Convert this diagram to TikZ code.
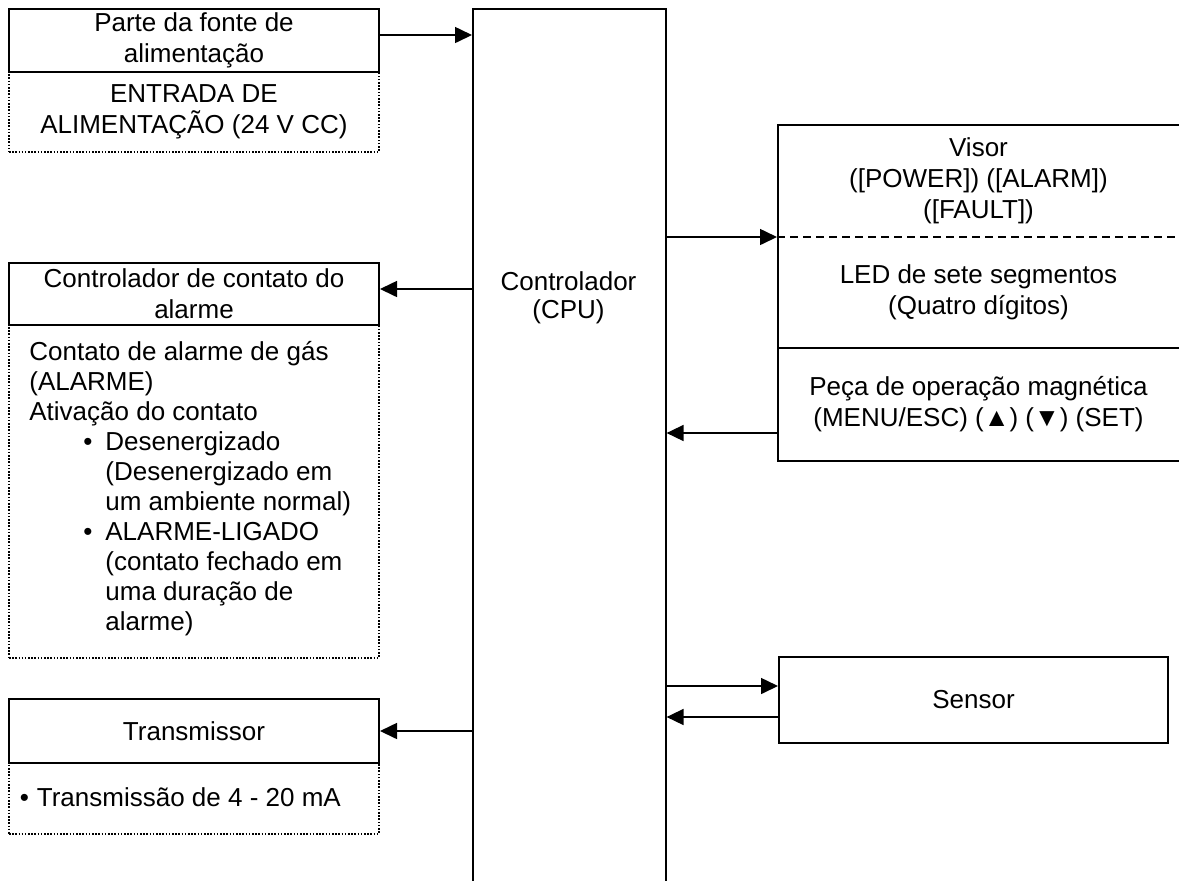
\documentclass[tikz,border=0pt]{standalone}
\usepackage{fontspec}
\setmainfont{Liberation Sans}
\usetikzlibrary{arrows.meta,calc}
\newcommand\mybul{\hspace*{27pt}\makebox[11pt][l]{•}}
\newcommand\myind{\hspace*{38pt}}
\begin{document}
\begin{tikzpicture}[x=0.5pt,y=-0.5pt, font=\fontsize{13}{15.5}\selectfont,
  box/.style={draw, line width=1pt, inner sep=0pt, anchor=north west, align=center},
  dotbox/.style={draw, line width=0.9pt, dash pattern=on 0.8pt off 0.8pt, inner sep=0pt, anchor=north west, align=center},
  arr/.style={line width=0.8pt, -{Triangle[length=8.5pt,width=8pt]}},
  txt/.style={inner sep=0pt, align=center}]
\clip (0,0) rectangle (1179,880);
% power supply
\node[dotbox, minimum width=185pt, minimum height=40pt] (pwrd) at (8,71) {ENTRADA DE\\ALIMENTAÇÃO (24 V CC)};
\node[box, minimum width=185pt, minimum height=31.5pt] (pwr) at (8,8) {Parte da fonte de\\alimentação};
% CPU
\node[box, line width=0.8pt, minimum width=96.5pt, minimum height=450pt] (cpu) at (472,8) {};
\node[txt, font=\fontsize{13}{14}\selectfont] (cput) at (568.5,298) {Controlador\\(CPU)};
% alarm contact
\node[dotbox, minimum width=185pt, minimum height=166.5pt] (alarmd) at (8,324) {};
\node[inner sep=0pt, anchor=north west, align=left, font=\fontsize{13}{15}\selectfont] (alarmt) at (29,341) {Contato de alarme de gás\\
(ALARME)\\
Ativação do contato\\
\mybul Desenergizado\\
\myind(Desenergizado em\\
\myind um ambiente normal)\\
\mybul ALARME-LIGADO\\
\myind(contato fechado em\\
\myind uma duração de\\
\myind alarme)};
\node[box, minimum width=185pt, minimum height=31pt] (alarm) at (8,262) {Controlador de contato do\\alarme};
% transmitter
\node[dotbox, minimum width=185pt, minimum height=35.5pt] (transd) at (8,762) {};
\node[inner sep=0pt, anchor=west] (transt) at (19.5,797.5) {\makebox[8.5pt][l]{•}Transmissão de 4 - 20 mA};
\node[box, minimum width=185pt, minimum height=32pt] (trans) at (8,698) {Transmissor};
% display
\node[box, minimum width=201.5pt, minimum height=168pt] (visor) at (777,124) {};
\draw[line width=0.75pt, dash pattern=on 4pt off 2.5pt] (visor.west |- 0,237) -- (visor.east |- 0,237);
\draw[line width=1pt] (visor.west |- 0,348) -- (visor.east |- 0,348);
\node[txt] (visort) at (978.5,180.5) {Visor\\([POWER]) ([ALARM])\\([FAULT])};
\node[txt] (ledt) at (978.5,292.5) {LED de sete segmentos\\(Quatro dígitos)};
\node[txt] (pecat) at (978.5,404) {Peça de operação magnética\\(MENU/ESC) (▲) (▼) (SET)};
% sensor
\node[box, minimum width=194.5pt, minimum height=43pt] (sensor) at (778,656) {Sensor};
% connectors
\draw[arr] (pwr.east |- 0,35) -- (cpu.west |- 0,35);
\draw[arr] (cpu.west |- 0,289) -- (alarm.east |- 0,289);
\draw[arr] (cpu.west |- trans.east) -- (trans.east);
\draw[arr] (cpu.east |- 0,237) -- (visor.west |- 0,237);
\draw[arr] (visor.west |- 0,433) -- (cpu.east |- 0,433);
\draw[arr] (cpu.east |- 0,686) -- (sensor.west |- 0,686);
\draw[arr] (sensor.west |- 0,717) -- (cpu.east |- 0,717);
\end{tikzpicture}
\end{document}
